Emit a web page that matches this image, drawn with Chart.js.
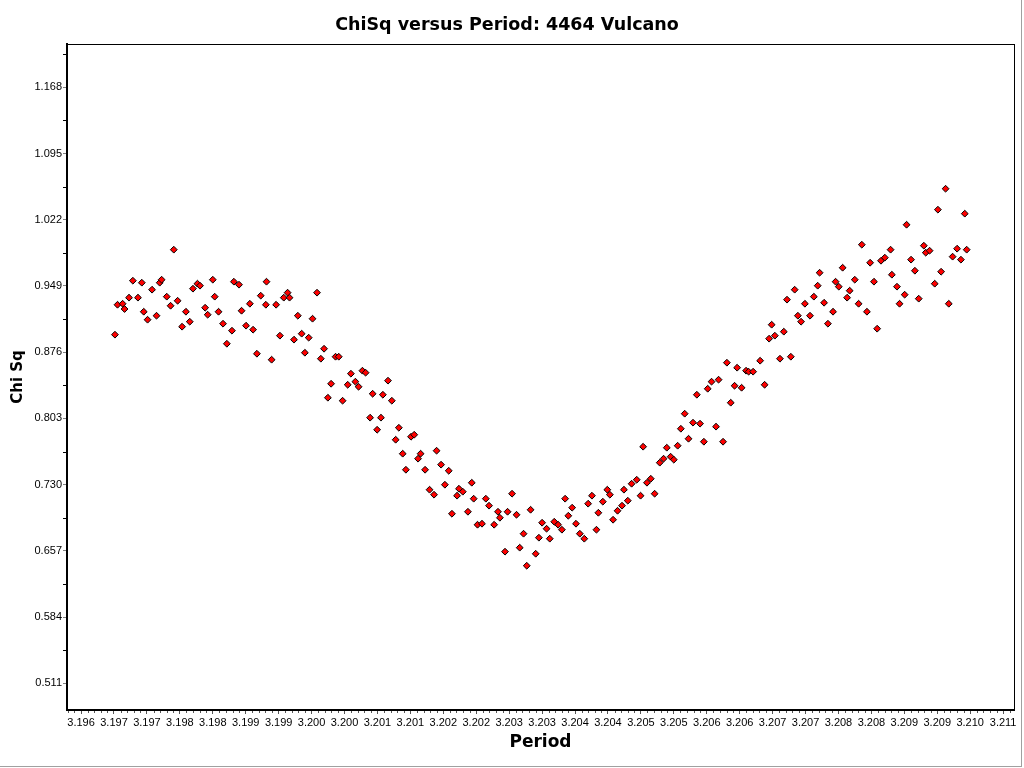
<!DOCTYPE html>
<html>
<head>
<meta charset="utf-8">
<script src="https://cdn.jsdelivr.net/npm/chart.js@4.4.1/dist/chart.umd.min.js"></script>
<style>
  html, body { margin: 0; padding: 0; background: #fff; }
  #frame { position: absolute; left: 0; top: 0; width: 1021px; height: 766px;
           border-right: 1px solid #a0a0a0; border-bottom: 1px solid #a0a0a0; }
  #wrap { position: absolute; left: 0; top: 0; width: 1024px; height: 768px; }
</style>
</head>
<body>
<div id="frame"></div>
<div id="wrap"><canvas id="chiChart" width="1024" height="768"></canvas></div>
<script>
// 주기(Period) 값
const periods = [
  3.19663, 3.19667, 3.19675, 3.19678, 3.19685, 3.19691, 3.19699, 3.19705, 3.19708, 3.19714,
  3.19721, 3.19728, 3.19733, 3.19736, 3.19744, 3.19750, 3.19755, 3.19761, 3.19768, 3.19774,
  3.19780, 3.19785, 3.19792, 3.19796, 3.19804, 3.19808, 3.19816, 3.19819, 3.19825, 3.19832,
  3.19838, 3.19846, 3.19849, 3.19857, 3.19861, 3.19868, 3.19874, 3.19879, 3.19885, 3.19891,
  3.19899, 3.19900, 3.19908, 3.19915, 3.19921, 3.19927, 3.19933, 3.19936, 3.19943, 3.19949,
  3.19955, 3.19960, 3.19966, 3.19972, 3.19979, 3.19985, 3.19990, 3.19996, 3.20001, 3.20008,
  3.20013, 3.20019, 3.20027, 3.20032, 3.20039, 3.20044, 3.20050, 3.20055, 3.20062, 3.20066,
  3.20073, 3.20079, 3.20082, 3.20090, 3.20096, 3.20102, 3.20107, 3.20113, 3.20118, 3.20126,
  3.20131, 3.20137, 3.20141, 3.20148, 3.20155, 3.20162, 3.20166, 3.20173, 3.20179, 3.20185,
  3.20190, 3.20198, 3.20201, 3.20207, 3.20215, 3.20221, 3.20224, 3.20230, 3.20237, 3.20243,
  3.20248, 3.20256, 3.20262, 3.20265, 3.20273, 3.20277, 3.20284, 3.20291, 3.20296, 3.20302,
  3.20307, 3.20313, 3.20321, 3.20326, 3.20331, 3.20338, 3.20343, 3.20350, 3.20356, 3.20362,
  3.20367, 3.20372, 3.20378, 3.20384, 3.20390, 3.20397, 3.20403, 3.20409, 3.20416, 3.20419,
  3.20426, 3.20433, 3.20437, 3.20442, 3.20449, 3.20456, 3.20459, 3.20465, 3.20471, 3.20479,
  3.20485, 3.20489, 3.20495, 3.20501, 3.20507, 3.20515, 3.20521, 3.20526, 3.20532, 3.20537,
  3.20543, 3.20548, 3.20554, 3.20560, 3.20567, 3.20573, 3.20578, 3.20584, 3.20590, 3.20596,
  3.20603, 3.20607, 3.20614, 3.20620, 3.20626, 3.20632, 3.20636, 3.20643, 3.20650, 3.20654,
  3.20661, 3.20672, 3.20679, 3.20686, 3.20690, 3.20695, 3.20703, 3.20709, 3.20714, 3.20720,
  3.20726, 3.20731, 3.20736, 3.20742, 3.20750, 3.20756, 3.20762, 3.20765, 3.20772, 3.20778,
  3.20786, 3.20790, 3.20795, 3.20801, 3.20808, 3.20812, 3.20820, 3.20826, 3.20831, 3.20839,
  3.20844, 3.20850, 3.20855, 3.20861, 3.20867, 3.20876, 3.20878, 3.20886, 3.20890, 3.20898,
  3.20901, 3.20908, 3.20914, 3.20920, 3.20928, 3.20931, 3.20937, 3.20945, 3.20950, 3.20955,
  3.20962, 3.20967, 3.20973, 3.20980, 3.20986, 3.20992, 3.20995
];

// Chi Sq 값
const chiSq = [
  0.8953, 0.9283, 0.9294, 0.9236, 0.9361, 0.9548, 0.9361, 0.9526, 0.9206, 0.9118,
  0.9449, 0.9162, 0.9526, 0.9559, 0.9372, 0.9272, 0.9890, 0.9327, 0.9041, 0.9206,
  0.9096, 0.9460, 0.9515, 0.9493, 0.9250, 0.9173, 0.9559, 0.9372, 0.9206, 0.9074,
  0.8853, 0.8997, 0.9537, 0.9504, 0.9217, 0.9052, 0.9294, 0.9008, 0.8743, 0.9383,
  0.9283, 0.9537, 0.8677, 0.9283, 0.8942, 0.9361, 0.9416, 0.9361, 0.8898, 0.9162,
  0.8964, 0.8754, 0.8920, 0.9129, 0.9416, 0.8688, 0.8798, 0.8258, 0.8412, 0.8710,
  0.8710, 0.8225, 0.8401, 0.8523, 0.8435, 0.8379, 0.8556, 0.8534, 0.8038, 0.8302,
  0.7905, 0.8038, 0.8291, 0.8446, 0.8225, 0.7795, 0.7927, 0.7641, 0.7464, 0.7828,
  0.7850, 0.7586, 0.7641, 0.7464, 0.7244, 0.7189, 0.7674, 0.7520, 0.7299, 0.7453,
  0.6979, 0.7178, 0.7255, 0.7222, 0.7001, 0.7321, 0.7145, 0.6858, 0.6869, 0.7145,
  0.7068, 0.6858, 0.7001, 0.6935, 0.6561, 0.7001, 0.7200, 0.6968, 0.6605, 0.6759,
  0.6406, 0.7023, 0.6538, 0.6715, 0.6880, 0.6814, 0.6704, 0.6891, 0.6858, 0.6803,
  0.7145, 0.6957, 0.7046, 0.6869, 0.6759, 0.6704, 0.7090, 0.7178, 0.6803, 0.6990,
  0.7112, 0.7244, 0.7189, 0.6913, 0.7012, 0.7068, 0.7244, 0.7123, 0.7310, 0.7354,
  0.7178, 0.7718, 0.7321, 0.7365, 0.7200, 0.7542, 0.7586, 0.7707, 0.7608, 0.7575,
  0.7729, 0.7916, 0.8082, 0.7806, 0.7983, 0.8291, 0.7972, 0.7773, 0.8357, 0.8435,
  0.7939, 0.8457, 0.7773, 0.8644, 0.8203, 0.8390, 0.8589, 0.8368, 0.8556, 0.8545,
  0.8545, 0.8666, 0.8401, 0.8909, 0.9063, 0.8942, 0.8688, 0.8986, 0.9339, 0.8710,
  0.9449, 0.9162, 0.9096, 0.9294, 0.9162, 0.9372, 0.9493, 0.9636, 0.9305, 0.9074,
  0.9206, 0.9537, 0.9482, 0.9691, 0.9361, 0.9438, 0.9559, 0.9294, 0.9945, 0.9206,
  0.9746, 0.9537, 0.9019, 0.9768, 0.9802, 0.9890, 0.9614, 0.9482, 0.9294, 0.9394,
  1.0165, 0.9780, 0.9658, 0.9350, 0.9934, 0.9857, 0.9879, 0.9515, 1.0331, 0.9647,
  1.0562, 0.9294, 0.9813, 0.9901, 0.9780, 1.0287, 0.9890
];

// 축 눈금 레이블
const yTickLabels = ['0.511', '0.584', '0.657', '0.730', '0.803', '0.876', '0.949', '1.022', '1.095', '1.168'];
const xTickLabels = [
  '3.196', '3.197', '3.197', '3.198', '3.198', '3.199', '3.199', '3.200', '3.200', '3.201',
  '3.201', '3.202', '3.202', '3.203', '3.203', '3.204', '3.204', '3.205', '3.205', '3.206',
  '3.206', '3.207', '3.207', '3.208', '3.208', '3.209', '3.209', '3.210', '3.211'
];
const xTickStart = 3.1961;
const xTickStep = 0.000515;

const tickFont = { family: 'Liberation Sans', size: 11 };
const boldFont = { family: 'DejaVu Sans', weight: 'bold' };

// 위/오른쪽 테두리와 보조 눈금
const framePlugin = {
  id: 'framePlugin',
  afterDraw(chart) {
    const { ctx, chartArea: a, scales: { x, y } } = chart;
    ctx.save();
    ctx.lineWidth = 1;
    ctx.strokeStyle = '#000';
    ctx.beginPath();
    ctx.moveTo(a.left, a.top + 0.5);
    ctx.lineTo(a.right + 1, a.top + 0.5);
    ctx.moveTo(a.right + 0.5, a.top);
    ctx.lineTo(a.right + 0.5, a.bottom);
    ctx.stroke();

    // y 보조 눈금 (주 눈금 사이)
    const yVals = yTickLabels.map(Number);
    const yStep = yVals[1] - yVals[0];
    ctx.beginPath();
    for (let v = yVals[0] - yStep / 2; v <= y.max; v += yStep) {
      if (v < y.min) continue;
      const py = Math.round(y.getPixelForValue(v)) + 0.5;
      ctx.moveTo(a.left - 4, py);
      ctx.lineTo(a.left - 1, py);
    }
    ctx.stroke();

    // x 보조 눈금
    ctx.strokeStyle = '#555';
    ctx.beginPath();
    const minor = xTickStep / 5;
    for (let k = -5; k <= xTickLabels.length * 5; k++) {
      if (k % 5 === 0) continue;
      const v = xTickStart + k * minor;
      if (v < x.min || v > x.max) continue;
      const px = Math.round(x.getPixelForValue(v)) + 0.5;
      ctx.moveTo(px, a.bottom + 1);
      ctx.lineTo(px, a.bottom + 3);
    }
    ctx.stroke();
    ctx.restore();
  }
};

const ctx = document.getElementById('chiChart').getContext('2d');
const chiChart = new Chart(ctx, {
  type: 'scatter',
  data: {
    datasets: [{
      label: 'Chi Sq',
      data: periods.map((p, i) => ({ x: p, y: chiSq[i] })),
      pointStyle: 'rectRot',
      pointRadius: 3.4,
      backgroundColor: '#ff0000',
      borderColor: '#000000',
      borderWidth: 1
    }]
  },
  options: {
    responsive: false,
    animation: false,
    layout: { padding: { right: 10 } },
    plugins: {
      legend: { display: false },
      tooltip: { enabled: false },
      title: {
        display: true,
        text: 'ChiSq versus Period: 4464 Vulcano',
        color: '#000',
        font: { ...boldFont, size: 17.5 },
        padding: { top: 15, bottom: 8 }
      }
    },
    scales: {
      x: {
        type: 'linear',
        min: 3.19588,
        max: 3.21069,
        afterBuildTicks: axis => {
          axis.ticks = xTickLabels.map((_, i) => ({ value: xTickStart + i * xTickStep }));
        },
        afterFit: axis => { axis.height = 58; },
        ticks: {
          autoSkip: false,
          maxRotation: 0,
          padding: 2,
          color: '#000',
          font: tickFont,
          callback: (v, i) => xTickLabels[i]
        },
        grid: { drawOnChartArea: false, tickLength: 4, color: '#555' },
        border: { color: '#000', width: 2 },
        title: {
          display: true,
          text: 'Period',
          color: '#000',
          font: { ...boldFont, size: 17 },
          padding: { top: 0, bottom: 15 }
        }
      },
      y: {
        min: 0.48157,
        max: 1.21573,
        afterBuildTicks: axis => {
          axis.ticks = yTickLabels.map(t => ({ value: Number(t) }));
        },
        afterFit: axis => { axis.width = 67; },
        ticks: {
          autoSkip: false,
          padding: 1,
          color: '#000',
          font: tickFont,
          callback: (v, i) => yTickLabels[i]
        },
        grid: { drawOnChartArea: false, tickLength: 4, color: '#808080' },
        border: { color: '#000', width: 2 },
        title: {
          display: true,
          text: 'Chi Sq',
          color: '#000',
          font: { ...boldFont, size: 15 },
          padding: { top: 9, bottom: 0 }
        }
      }
    }
  },
  plugins: [framePlugin]
});
</script>
</body>
</html>
